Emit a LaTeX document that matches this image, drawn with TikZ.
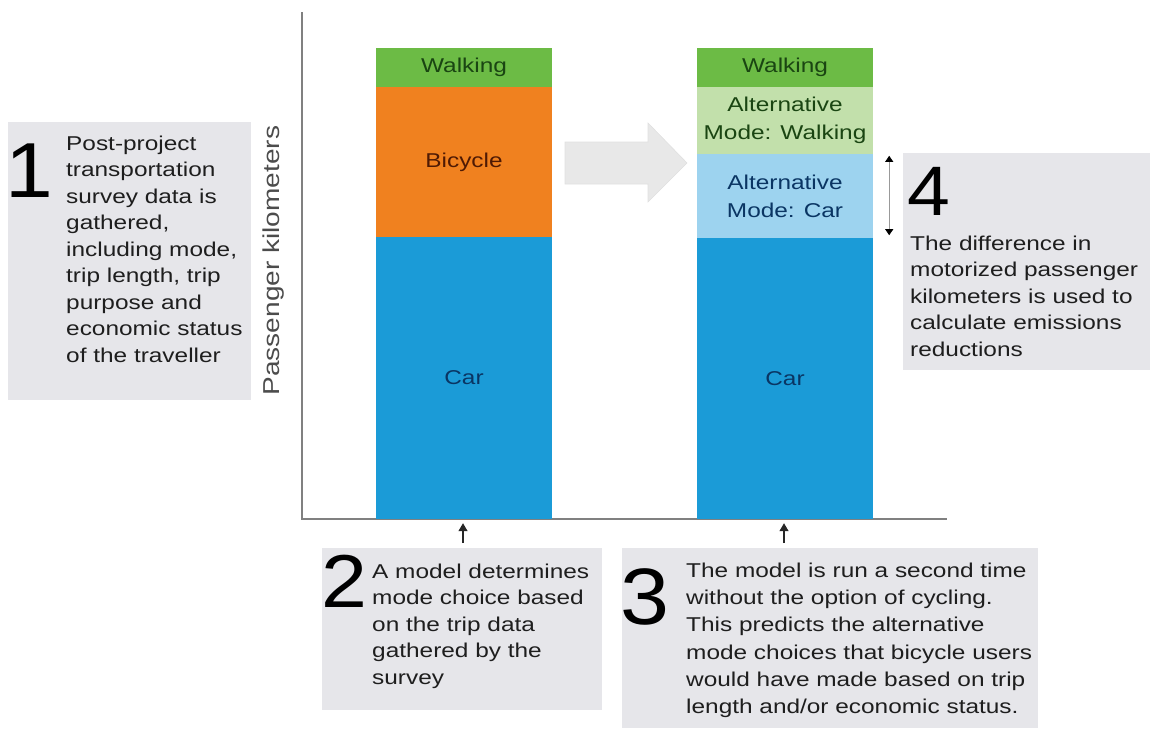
\documentclass[tikz,border=0pt]{standalone}
\usepackage{fontspec}
\setmainfont[FakeStretch=1.22]{Liberation Sans}
\newfontfamily\numfont[FakeStretch=1.1]{Liberation Sans}
\usetikzlibrary{arrows.meta}
\definecolor{walkG}{HTML}{6CBB45}
\definecolor{bikeO}{HTML}{F0811F}
\definecolor{carB}{HTML}{1B9BD7}
\definecolor{altW}{HTML}{C2E0AB}
\definecolor{altC}{HTML}{9DD3EF}
\definecolor{walkT}{HTML}{1A4512}
\definecolor{bikeT}{HTML}{4F1A04}
\definecolor{carT}{HTML}{0A3563}
\definecolor{boxgray}{HTML}{E6E6EA}
\definecolor{arrowgray}{HTML}{E8E8E8}
\definecolor{txt}{HTML}{1E1E1E}
\definecolor{axisgray}{HTML}{808080}
\begin{document}
\begin{tikzpicture}[x=1pt,y=-1pt,
  seg/.style={draw=none, inner sep=0, minimum width=176pt, align=center,
    font=\fontsize{20}{28}\selectfont},
  infobox/.style={fill=boxgray, draw=none, inner sep=0},
  btext/.style={anchor=north west, inner sep=0, align=left, text=txt,
    font=\fontsize{20}{26.5}\selectfont},
  bignum/.style={anchor=base, inner sep=0, text=black},
  smallarrow/.style={draw=black!85, line width=1.2pt, -{Triangle[width=9pt,length=8pt]}},
  dblarrow/.style={draw=black!40, line width=0.8pt,
    {Triangle[width=8pt,length=6pt,black]}-{Triangle[width=8pt,length=6pt,black]}},
  axis/.style={draw=axisgray, line width=1.5pt}
]
\useasboundingbox (0,0) rectangle (1153,728);

% axes
\coordinate (ytop) at (302,12);
\coordinate (orig) at (302,519);
\coordinate (xend) at (947,519);
\draw[axis] (ytop) -- (orig) -- (xend);
\node[rotate=90, inner sep=0, text=black!70, font=\fontsize{23}{26}\selectfont] (ylab) at (274,260.5) {Passenger kilometers};

% bar 1
\node[seg, fill=walkG, minimum height=39pt, text=walkT] (w1) at (464,67.5) {Walking};
\node[seg, fill=bikeO, minimum height=150pt, text=bikeT] (b1bar) at (464,162) {Bicycle};
\node[seg, fill=carB, minimum height=282pt, text=carT] (c1) at (464,378) {Car};

% bar 2
\node[seg, fill=walkG, minimum height=39pt, text=walkT] (w2) at (785,67.5) {Walking};
\node[seg, fill=altW, minimum height=67pt, text=walkT] (aw2) at (785,120.5) {Alternative\\Mode: Walking};
\node[seg, fill=altC, minimum height=84pt, text=carT] (ac2) at (785,196) {Alternative\\Mode: Car};
\node[seg, fill=carB, minimum height=281pt, text=carT] (c2) at (785,378.5) {Car};

% big arrow between bars
\draw[fill=arrowgray, draw=black!12, line width=0.6pt]
  (565,142) -- (648,142) -- (648,123) -- (687,163) -- (648,202) -- (648,184) -- (565,184) -- cycle;

% double arrow
\draw[dblarrow] ([xshift=16pt,yshift=-2pt]ac2.north east) -- ([xshift=16pt,yshift=3pt]ac2.south east);

% box 1
\node[infobox, minimum width=243pt, minimum height=278pt] (box1) at (129.5,261) {};
\node[bignum, font=\numfont\fontsize{78}{80}\selectfont] (n1) at (29,197) {1};
\node[btext] (t1) at (66,131.5) {\strut Post-project\\transportation\\survey data is\\gathered,\\including mode,\\trip length, trip\\purpose and\\economic status\\of the traveller};

% box 4
\node[infobox, minimum width=247pt, minimum height=217pt] (box4) at (1026.5,261.5) {};
\node[bignum, font=\numfont\fontsize{70}{72}\selectfont] (n4) at (929,215) {4};
\node[btext] (t4) at (910,231.5) {\strut The difference in\\motorized passenger\\kilometers is used to\\calculate emissions\\reductions};

% box 2
\node[infobox, minimum width=280pt, minimum height=162pt] (box2) at (462,629) {};
\node[bignum, font=\numfont\fontsize{75}{78}\selectfont] (n2) at (344,607) {2};
\node[btext] (t2) at (372,559.5) {\strut A model determines\\mode choice based\\on the trip data\\gathered by the\\survey};

% box 3
\node[infobox, minimum width=416pt, minimum height=180pt] (box3) at (830,638) {};
\node[bignum, font=\numfont\fontsize{80}{82}\selectfont] (n3) at (645,624) {3};
\node[btext, font=\fontsize{20}{27.3}\selectfont] (t3) at (686,557.9) {\strut The model is run a second time\\without the option of cycling.\\This predicts the alternative\\mode choices that bicycle users\\would have made based on trip\\length and/or economic status.};

% small arrows
\coordinate (s2) at (463,543);
\coordinate (s3) at (784,543);
\draw[smallarrow, shorten >=4pt] (s2) -- (s2 |- c1.south);
\draw[smallarrow, shorten >=4pt] (s3) -- (s3 |- c2.south);
\end{tikzpicture}
\end{document}
